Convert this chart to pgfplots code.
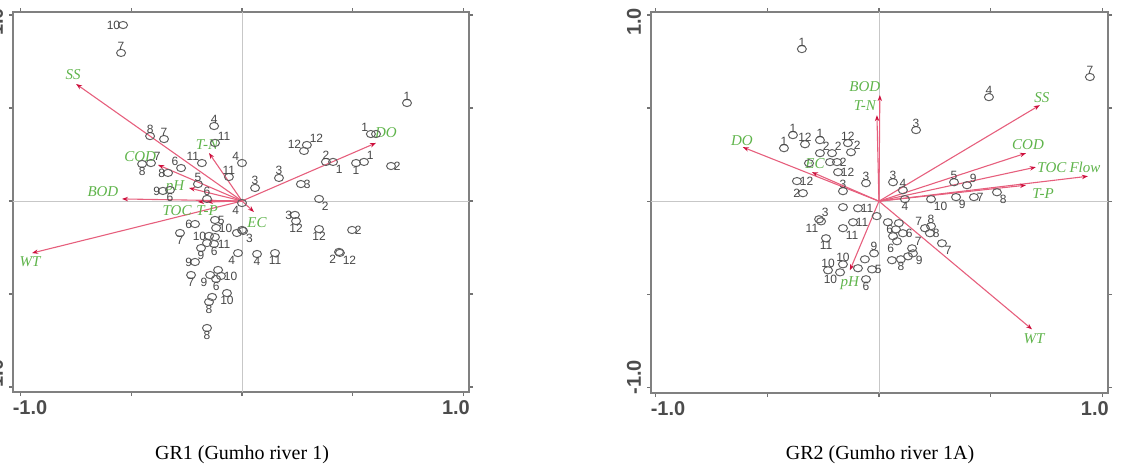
\documentclass[border=0pt]{standalone}
\usepackage{pgfplots}
\pgfplotsset{compat=1.18}
\usepackage{fontspec}
\setmainfont{Liberation Serif}
\newfontfamily\arial{Liberation Sans}
\usetikzlibrary{arrows.meta}
\definecolor{arrline}{RGB}{230,95,125}
\definecolor{arrhead}{RGB}{205,15,60}
\definecolor{lblgreen}{RGB}{95,180,75}

\pgfplotsset{
 rda/.style={scale only axis, anchor=south west,
   axis line style={draw=black!50, line width=1pt},
   tick style={black!55, line width=0.6pt}, major tick length=2pt, tick align=outside,
   xtick={-1,-0.5,0,0.5,1}, ytick={-1,-0.5,0,0.5,1}, xticklabels={}, yticklabels={},
   clip=false},
 upts/.style={only marks, mark=o, mark size=1.8pt,
   mark options={xscale=1.25, draw=black!62, line width=0.5pt}},
 pts/.style={upts, nodes near coords, point meta=explicit symbolic,
   every node near coord/.append style={anchor=#1, inner sep=1.2pt,
     font=\arial\fontsize{6}{6.5}\selectfont, text=black!72}},
 arr/.style={arrline, line width=0.55pt, -{Stealth[length=3pt,width=2.2pt,color=arrhead]}},
}
\tikzset{
 gl/.style={text=lblgreen, font=\itshape\fontsize{7.5}{8}\selectfont, inner sep=0pt},
 tl/.style={font=\arial\bfseries\fontsize{10}{11}\selectfont, text=black!70, inner sep=0pt},
 zl/.style={black!22, line width=0.4pt},
}

\begin{document}
\begin{tikzpicture}
% ---------------- GR1 ----------------
\begin{axis}[rda, at={(6.5pt,38pt)}, width=228pt, height=190pt,
  xmin=-1.034, xmax=1.025, ymin=-1.027, ymax=1.016]
\draw[zl] (axis cs:0,-1.027) -- (axis cs:0,1.016);
\draw[zl] (axis cs:-1.034,0) -- (axis cs:1.025,0);
\addplot[upts] table {
x y
-0.158 -0.226
-0.108 -0.371
-0.135 -0.516
0.605 0.360
0.000 -0.156
-0.023 -0.172
};
\addplot[pts=south] table[meta=lab] {
x y lab
-0.546 0.796 7
-0.415 0.349 8
-0.352 0.333 7
-0.126 0.403 4
-0.059 0.129 11
-0.199 0.091 5
-0.158 0.011 6
0.059 0.070 3
0.167 0.124 3
0.745 0.527 1
0.379 0.210 2
};
\addplot[pts=north] table[meta=lab] {
x y lab
-0.451 0.199 8
-0.325 0.059 6
-0.280 -0.172 7
-0.185 -0.253 9
-0.126 -0.231 6
0.068 -0.285 4
0.149 -0.280 11
0.244 -0.108 12
0.348 -0.151 12
-0.230 -0.398 7
-0.117 -0.419 6
-0.068 -0.495 10
-0.149 -0.543 8
-0.158 -0.683 8
0.515 0.204 1
};
\addplot[pts=west] table[meta=lab] {
x y lab
-0.122 -0.102 5
-0.117 -0.145 10
0.497 -0.156 2
-0.095 -0.403 10
0.673 0.188 2
0.266 0.091 3
};
\addplot[pts=east] table[meta=lab] {
x y lab
-0.537 0.946 10
-0.334 0.151 8
-0.357 0.054 9
-0.212 -0.124 6
-0.149 -0.188 10
0.239 -0.075 3
-0.212 -0.328 9
};
\addplot[pts=south west] table[meta=lab] {
x y lab
-0.122 0.312 11
-0.411 0.204 7
0.293 0.301 12
0.551 0.210 1
};
\addplot[pts=south east] table[meta=lab] {
x y lab
-0.275 0.177 6
-0.181 0.204 11
0.000 0.204 4
0.582 0.360 1
0.280 0.269 12
};
\addplot[pts=north west] table[meta=lab] {
x y lab
-0.122 -0.194 11
0.442 -0.279 12
0.348 0.011 2
0.005 -0.161 3
0.411 0.210 1
};
\addplot[pts=north east] table[meta=lab] {
x y lab
0.000 -0.011 4
-0.018 -0.280 4
0.438 -0.274 2
-0.144 -0.398 9
};
\addplot[arr] coordinates {(0,0) (-0.749,0.629)};
\addplot[arr] coordinates {(0,0) (-0.379,0.194)};
\addplot[arr] coordinates {(0,0) (-0.149,0.258)};
\addplot[arr] coordinates {(0,0) (-0.542,0.011)};
\addplot[arr] coordinates {(0,0) (-0.239,0.070)};
\addplot[arr] coordinates {(0,0) (-0.199,-0.005)};
\addplot[arr] coordinates {(0,0) (-0.158,-0.005)};
\addplot[arr] coordinates {(0,0) (0.054,-0.059)};
\addplot[arr] coordinates {(0,0) (-0.948,-0.280)};
\addplot[arr] coordinates {(0,0) (0.605,0.312)};
\node[gl] at (axis cs:-0.763,0.677) {SS};
\node[gl] at (axis cs:-0.460,0.237) {COD};
\node[gl] at (axis cs:-0.158,0.301) {T-N};
\node[gl] at (axis cs:-0.628,0.048) {BOD};
\node[gl] at (axis cs:-0.302,0.075) {pH};
\node[gl] at (axis cs:-0.293,-0.054) {TOC};
\node[gl] at (axis cs:-0.158,-0.054) {T-P};
\node[gl] at (axis cs:0.068,-0.118) {EC};
\node[gl] at (axis cs:-0.957,-0.328) {WT};
\node[gl] at (axis cs:0.650,0.366) {DO};
\node[tl] at (axis cs:-0.957,-1.113) {-1.0};
\node[tl] at (axis cs:0.966,-1.113) {1.0};
\node[tl, rotate=90] at (axis cs:-1.111,0.962) {1.0};
\node[tl, rotate=90] at (axis cs:-1.111,-0.946) {-1.0};
\end{axis}
% ---------------- GR2 ----------------
\begin{axis}[rda, at={(325.5pt,37.5pt)}, width=228.5pt, height=190.5pt,
  xmin=-1.02, xmax=1.025, ymin=-1.03, ymax=1.016]
\draw[zl] (axis cs:0,-1.03) -- (axis cs:0,1.016);
\draw[zl] (axis cs:-1.02,0) -- (axis cs:1.025,0);
\addplot[upts] table {
x y
-0.313 0.204
-0.219 0.210
-0.161 -0.032
-0.063 -0.312
-0.094 -0.360
0.089 -0.118
0.063 -0.188
0.130 -0.296
0.058 -0.317
0.040 -0.113
-0.010 -0.080
};
\addplot[pts=south] table[meta=lab] {
x y lab
-0.345 0.817 1
-0.385 0.355 1
-0.425 0.285 1
-0.331 0.306 12
-0.264 0.328 1
-0.139 0.312 12
-0.058 0.097 3
-0.161 0.054 3
0.063 0.102 3
0.107 0.059 4
0.166 0.382 3
0.492 0.559 4
0.944 0.667 7
0.336 0.102 5
-0.022 -0.280 9
-0.228 -0.371 10
-0.161 -0.339 10
0.233 -0.134 8
};
\addplot[pts=north] table[meta=lab] {
x y lab
0.116 0.011 4
-0.237 -0.199 11
-0.058 -0.419 6
0.098 -0.312 8
};
\addplot[pts=west] table[meta=lab] {
x y lab
-0.188 0.210 2
-0.183 0.156 12
-0.367 0.108 12
0.425 0.022 7
-0.094 -0.038 11
-0.116 -0.113 11
-0.031 -0.366 5
0.107 -0.172 6
0.228 -0.172 8
};
\addplot[pts=east] table[meta=lab] {
x y lab
-0.340 0.043 2
0.076 -0.151 6
};
\addplot[pts=south west] table[meta=lab] {
x y lab
-0.264 0.258 2
-0.210 0.258 2
-0.125 0.263 2
0.394 0.086 9
-0.268 -0.097 3
0.148 -0.253 7
};
\addplot[pts=south east] table[meta=lab] {
x y lab
0.206 -0.145 7
};
\addplot[pts=north west] table[meta=lab] {
x y lab
0.528 0.048 8
0.345 0.022 9
0.233 0.011 10
-0.161 -0.145 11
0.152 -0.280 9
0.282 -0.226 7
};
\addplot[pts=north east] table[meta=lab] {
x y lab
-0.259 -0.108 11
-0.174 -0.382 10
0.081 -0.215 6
};
\addplot[arr] coordinates {(0,0) (0.004,0.570)};
\addplot[arr] coordinates {(0,0) (-0.009,0.462)};
\addplot[arr] coordinates {(0,0) (-0.609,0.290)};
\addplot[arr] coordinates {(0,0) (-0.300,0.156)};
\addplot[arr] coordinates {(0,0) (0.720,0.516)};
\addplot[arr] coordinates {(0,0) (0.658,0.258)};
\addplot[arr] coordinates {(0,0) (0.702,0.183)};
\addplot[arr] coordinates {(0,0) (0.935,0.134)};
\addplot[arr] coordinates {(0,0) (0.658,0.086)};
\addplot[arr] coordinates {(0,0) (0.685,-0.688)};
\addplot[arr] coordinates {(0,0) (-0.130,-0.371)};
\node[gl] at (axis cs:-0.063,0.618) {BOD};
\node[gl] at (axis cs:-0.063,0.511) {T-N};
\node[gl] at (axis cs:-0.613,0.328) {DO};
\node[gl] at (axis cs:-0.286,0.204) {EC};
\node[gl] at (axis cs:0.729,0.559) {SS};
\node[gl] at (axis cs:0.667,0.306) {COD};
\node[gl] at (axis cs:0.774,0.183) {TOC};
\node[gl] at (axis cs:0.922,0.183) {Flow};
\node[gl] at (axis cs:0.734,0.043) {T-P};
\node[gl] at (axis cs:0.694,-0.737) {WT};
\node[gl] at (axis cs:-0.130,-0.441) {pH};
\node[tl] at (axis cs:-0.944,-1.113) {-1.0};
\node[tl] at (axis cs:0.966,-1.113) {1.0};
\node[tl, rotate=90] at (axis cs:-1.096,0.962) {1.0};
\node[tl, rotate=90] at (axis cs:-1.096,-0.946) {-1.0};
\end{axis}
\node[font=\fontsize{10}{12}\selectfont] at (121pt,6.5pt) {GR1 (Gumho river 1)};
\node[font=\fontsize{10}{12}\selectfont] at (440pt,6.5pt) {GR2 (Gumho river 1A)};
\pgfresetboundingbox
\useasboundingbox (0,0) rectangle (561pt,234pt);
\end{tikzpicture}
\end{document}
